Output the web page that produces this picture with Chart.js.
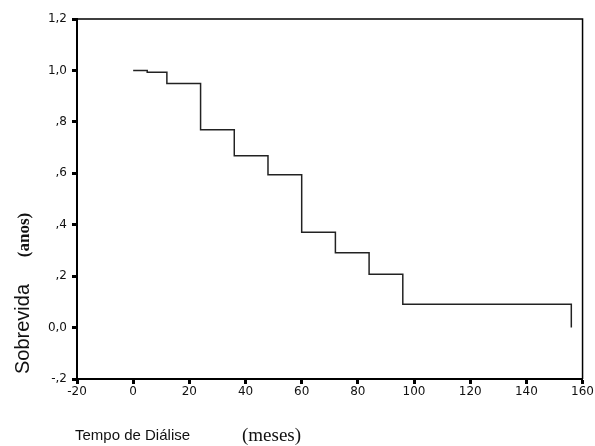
<!DOCTYPE html>
<html>
<head>
<meta charset="utf-8">
<script src="https://cdn.jsdelivr.net/npm/chart.js@4/dist/chart.umd.min.js"></script>
<style>
  html, body { margin: 0; padding: 0; background: #fff; }
  canvas { display: block; }
</style>
</head>
<body>
<canvas id="c" width="595" height="446"></canvas>
<script>
// Kaplan-Meier step data (time in months, cumulative survival)
const months   = [0, 5, 12, 24, 36, 48, 60, 72, 84, 96, 156];
const survival = [1.0, 0.993, 0.949, 0.769, 0.668, 0.594, 0.371, 0.291, 0.207, 0.091, 0.0];

const xTickValues = [-20, 0, 20, 40, 60, 80, 100, 120, 140, 160];
const xTickLabels = ['-20', '0', '20', '40', '60', '80', '100', '120', '140', '160'];
const yTickValues = [-0.2, 0, 0.2, 0.4, 0.6, 0.8, 1.0, 1.2];
const yTickLabels = ['-,2', '0,0', ',2', ',4', ',6', ',8', '1,0', '1,2'];

const xTitleMain = 'Tempo de Diálise';
const xTitleUnit = '(meses)';
const yTitleMain = 'Sobrevida';
const yTitleUnit = '(anos)';

const points = months.map((m, i) => ({ x: m, y: survival[i] }));

const frameAndTitles = {
  id: 'frameAndTitles',
  afterDraw(chart) {
    const ctx = chart.ctx;
    const a = chart.chartArea;
    ctx.save();
    ctx.strokeStyle = '#000';
    ctx.lineWidth = 1.5;
    ctx.beginPath();
    ctx.moveTo(a.left, a.top);
    ctx.lineTo(a.right, a.top);
    ctx.lineTo(a.right, a.bottom);
    ctx.stroke();

    ctx.fillStyle = '#111';
    ctx.textBaseline = 'alphabetic';
    ctx.textAlign = 'left';
    ctx.font = '15px "Liberation Sans", Arial, sans-serif';
    ctx.fillText(xTitleMain, 75, 440);
    ctx.font = '19px "Liberation Serif", "Times New Roman", serif';
    ctx.fillText(xTitleUnit, 242, 441);

    ctx.translate(29, 0);
    ctx.rotate(-Math.PI / 2);
    ctx.textAlign = 'center';
    ctx.font = '20px "Liberation Sans", Arial, sans-serif';
    ctx.fillText(yTitleMain, -329, 0);
    ctx.font = 'bold 17px "Liberation Serif", "Times New Roman", serif';
    ctx.fillText(yTitleUnit, -235, 0);
    ctx.restore();
  }
};

new Chart(document.getElementById('c'), {
  type: 'line',
  data: {
    datasets: [{
      data: points,
      stepped: 'before',
      borderColor: '#222',
      borderWidth: 1.5,
      pointRadius: 0,
      fill: false
    }]
  },
  options: {
    responsive: false,
    animation: false,
    layout: { padding: { top: 19, right: 11, left: 0, bottom: 0 } },
    plugins: { legend: { display: false }, tooltip: { enabled: false } },
    scales: {
      x: {
        type: 'linear',
        min: -20, max: 160,
        afterBuildTicks: (s) => { s.ticks = xTickValues.map(v => ({ value: v })); },
        afterFit: (s) => { s.height = 67; },
        ticks: {
          callback: (v, i) => xTickLabels[i],
          color: '#111',
          font: { family: '"DejaVu Sans", sans-serif', size: 12 },
          padding: 1,
          maxRotation: 0,
          autoSkip: false
        },
        grid: { drawOnChartArea: false, drawTicks: true, tickLength: 5, tickWidth: 3, tickColor: '#000' },
        border: { display: true, color: '#000', width: 2 }
      },
      y: {
        type: 'linear',
        min: -0.2, max: 1.2,
        afterBuildTicks: (s) => { s.ticks = yTickValues.map(v => ({ value: v })); },
        afterFit: (s) => { s.width = 77; },
        ticks: {
          callback: (v, i) => yTickLabels[i],
          color: '#111',
          font: { family: '"DejaVu Sans", sans-serif', size: 12 },
          padding: 5,
          autoSkip: false
        },
        grid: { drawOnChartArea: false, drawTicks: true, tickLength: 5, tickWidth: 3, tickColor: '#000' },
        border: { display: true, color: '#000', width: 2 }
      }
    }
  },
  plugins: [frameAndTitles]
});
</script>
</body>
</html>
